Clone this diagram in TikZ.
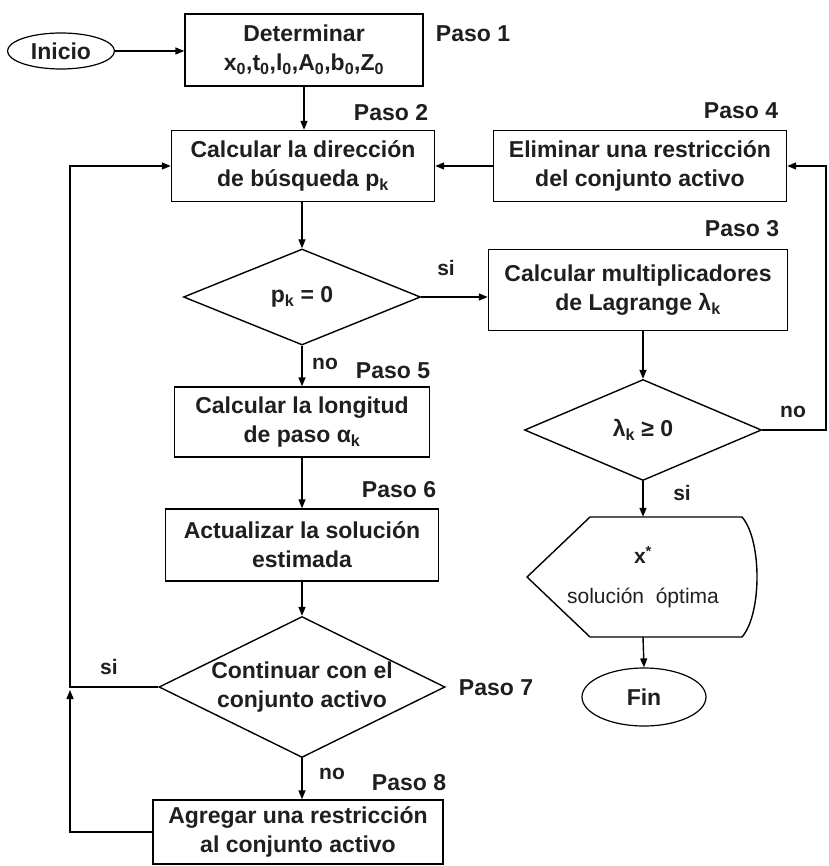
\documentclass[tikz,border=0pt]{standalone}
\usepackage{fontspec}
\setmainfont{Liberation Sans}
\usetikzlibrary{shapes.geometric,arrows.meta}
\newcommand{\zs}[1]{\textsubscript{#1}}
\begin{document}
\begin{tikzpicture}[x=1pt,y=-1pt,
  every node/.style={text=black!88},
  txt/.style={font=\fontsize{23}{29}\selectfont\bfseries},
  box/.style={draw, line width=1.4pt, align=center, inner sep=0pt, txt},
  dec/.style={draw, diamond, line width=1.4pt, inner sep=0pt, align=center, txt},
  term/.style={draw, ellipse, line width=1.2pt, inner sep=0pt, txt},
  arr/.style={line width=1.4pt, -{Triangle[length=9pt,width=7pt]}},
  ln/.style={line width=1.4pt},
  paso/.style={font=\fontsize{23}{27}\selectfont\bfseries},
  lbl/.style={font=\fontsize{21}{25}\selectfont\bfseries}
]
\useasboundingbox (0,0) rectangle (828,866);
\fill[white] (0,0) rectangle (828,866);

% nodes
\node[term, minimum width=107pt, minimum height=36pt] (ini) at (61,51) {Inicio};
\node[box, minimum width=238pt, minimum height=72pt] (b1) at (304,50)
  {Determinar\\x\zs{0},t\zs{0},l\zs{0},A\zs{0},b\zs{0},Z\zs{0}};
\node[box, minimum width=263pt, minimum height=71pt] (b2) at (303,166)
  {Calcular la dirección\\de búsqueda p\zs{k}};
\node[box, minimum width=293pt, minimum height=71pt] (b4) at (640,166)
  {Eliminar una restricción\\del conjunto activo};
\node[dec, shape aspect=2.4, minimum width=237pt, minimum height=96pt] (d1) at (302,297) {p\zs{k} = 0};
\node[box, minimum width=299pt, minimum height=81pt] (b3) at (638,290)
  {Calcular multiplicadores\\de Lagrange λ\zs{k}};
\node[box, minimum width=255pt, minimum height=70pt] (b5) at (302,422)
  {Calcular la longitud\\de paso α\zs{k}};
\node[box, minimum width=273pt, minimum height=72pt] (b6) at (302,545)
  {Actualizar la solución\\estimada};
\node[dec, shape aspect=2.2, minimum width=286pt, minimum height=141pt, inner sep=-8pt] (d7) at (302,687)
  {Continuar con el\\conjunto activo};
\node[box, minimum width=290pt, minimum height=64pt] (b8) at (298,832)
  {Agregar una restricción\\al conjunto activo};
\node[dec, shape aspect=2.4, minimum width=237pt, minimum height=101pt] (d2) at (643,430) {λ\zs{k} ≥ 0};
\node[minimum width=230pt, minimum height=120pt, inner sep=0pt, align=center,
      font=\fontsize{21}{40}\selectfont] (disp) at (643,577)
  {\textbf{x\textsuperscript{*}}\\solución\ \ óptima};
\draw[line width=1.4pt] (527,577) -- (590,517) -- (742,517)
  .. controls (762,540) and (762,614) .. (742,637) -- (590,637) -- cycle;
\node[term, minimum width=124pt, minimum height=58pt] (fin) at (644,697) {Fin};

% labels
\node[paso] (p1) at (473,34) {Paso 1};
\node[paso] (p2) at (391,113) {Paso 2};
\node[paso] (p4) at (741,111) {Paso 4};
\node[paso] (p3) at (742,229) {Paso 3};
\node[paso] (p5) at (393,371) {Paso 5};
\node[paso] (p6) at (399,490) {Paso 6};
\node[paso] (p7) at (496,688) {Paso 7};
\node[paso] (p8) at (409,783) {Paso 8};
\node[lbl] (s1) at (446,268) {si};
\node[lbl] (n1) at (325,364) {no};
\node[lbl] (n2) at (793,412) {no};
\node[lbl] (s2) at (682,493) {si};
\node[lbl] (s7) at (109,667) {si};
\node[lbl] (n7) at (332,774) {no};

\coordinate (rt) at (826,430);
\coordinate (lt) at (70,687);

% connectors
\draw[arr] (ini.east) -- (ini.east -| b1.west);
\draw[arr] (b1.south) -- (b1.south |- b2.north);
\draw[arr] (b2.south -| d1.north) -- (d1.north);
\draw[arr] (d1.east) -- (d1.east -| b3.west);
\draw[arr] (d1.south) -- (d1.south |- b5.north);
\draw[arr] (b5.south) -- (b6.north);
\draw[arr] (b6.south) -- (d7.north);
\draw[arr] (d7.south) -- (d7.south |- b8.north);
\draw[arr] (d7.west) -- (lt) |- (b2.west);
\draw[arr] (b8.west) -| ([yshift=-3pt]lt);
\draw[arr] (b4.west) -- (b2.east);
\draw[arr] (b3.south -| d2.north) -- (d2.north);
\draw[arr] (d2.east) -- (rt) |- (b4.east);
\draw[arr] (d2.south) -- (disp.north);
\draw[arr] (disp.south) -- (fin.north);
\end{tikzpicture}
\end{document}
